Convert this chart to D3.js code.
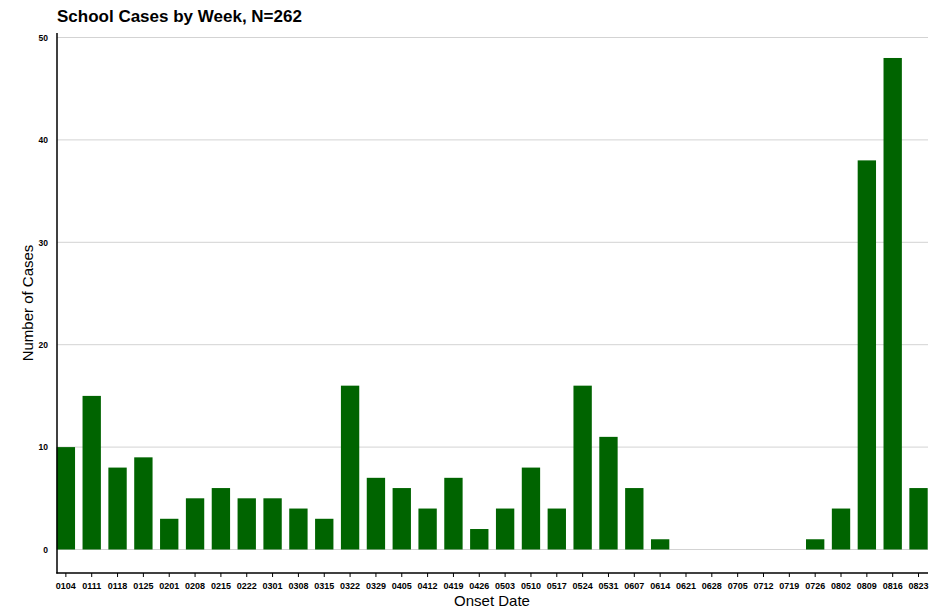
<!DOCTYPE html>
<html><head><meta charset="utf-8">
<script src="https://cdn.jsdelivr.net/npm/d3@7"></script>
<style>body{margin:0;background:#fff}svg{display:block}text{font-family:"Liberation Sans",Arial,sans-serif}</style>
</head><body>
<script>
const weeks = ["0104","0111","0118","0125","0201","0208","0215","0222","0301","0308","0315","0322","0329","0405","0412","0419","0426","0503","0510","0517","0524","0531","0607","0614","0621","0628","0705","0712","0719","0726","0802","0809","0816","0823"];
const cases = [10,15,8,9,3,5,6,5,5,4,3,16,7,6,4,7,2,4,8,4,16,11,6,1,0,0,0,0,0,1,4,38,48,6];
const yTicks = [0,10,20,30,40,50];

const W=948,H=609;
const svg=d3.select("body").append("svg").attr("width",W).attr("height",H);
const x=d3.scaleBand().domain(weeks).range([56.7,927.7]).paddingInner(0.29).paddingOuter(0);
const y=d3.scaleLinear().domain([0,50]).range([549.5,37.5]);
const axisY=573;

// grid
svg.append("g").selectAll("line").data(yTicks).join("line")
  .attr("x1",57).attr("x2",928).attr("y1",d=>y(d)).attr("y2",d=>y(d))
  .attr("stroke","#d3d3d3").attr("stroke-width",1);

// bars
svg.append("g").selectAll("rect").data(weeks.map((w,i)=>({w,v:cases[i]})).filter(d=>d.v>0)).join("rect")
  .attr("x",d=>x(d.w)).attr("width",x.bandwidth())
  .attr("y",d=>y(d.v)).attr("height",d=>y(0)-y(d.v))
  .attr("fill","#006400");

// y axis
const ya=svg.append("g").attr("transform","translate(57,0)")
  .call(d3.axisLeft(y).tickValues(yTicks).tickSize(0).tickPadding(9).tickFormat(d3.format("d")));
ya.select(".domain").remove();
ya.selectAll("text").attr("font-size",8.5).attr("font-weight","bold").attr("fill","#000").attr("font-family","'Liberation Sans',Arial,sans-serif");
svg.append("line").attr("x1",57).attr("x2",57).attr("y1",33).attr("y2",axisY+0.5).attr("stroke","#000").attr("stroke-width",1.5);

// x axis
const xa=svg.append("g").attr("transform",`translate(0,${axisY})`)
  .call(d3.axisBottom(x).tickSize(4).tickPadding(6));
xa.select(".domain").remove();
xa.selectAll("line").attr("stroke","#000");
xa.selectAll("text").attr("font-size",9).attr("font-weight","bold").attr("fill","#000").attr("font-family","'Liberation Sans',Arial,sans-serif");
svg.append("line").attr("x1",56.3).attr("x2",928).attr("y1",axisY).attr("y2",axisY).attr("stroke","#000").attr("stroke-width",1.5);

// title
svg.append("text").attr("x",57).attr("y",22).attr("font-size",17).attr("font-weight","bold").text("School Cases by Week, N=262");
svg.append("text").attr("transform","translate(33,303) rotate(-90)").attr("text-anchor","middle").attr("font-size",15).text("Number of Cases");
svg.append("text").attr("x",492).attr("y",606).attr("text-anchor","middle").attr("font-size",15).text("Onset Date");
</script>
</body></html>
